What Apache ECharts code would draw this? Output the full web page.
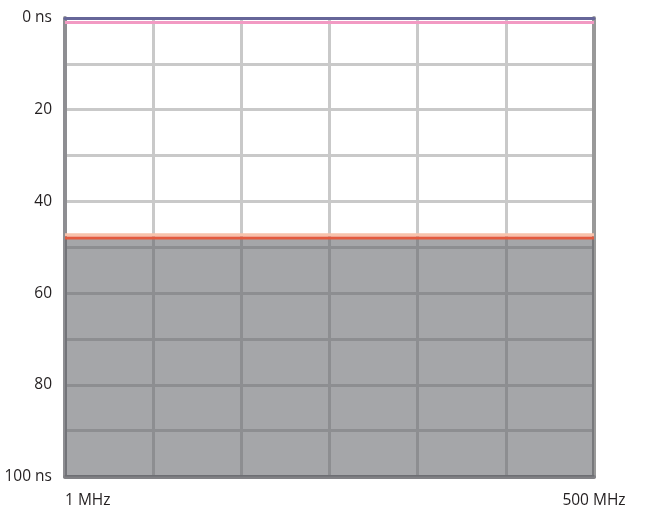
<!DOCTYPE html>
<html>
<head>
<meta charset="utf-8">
<script src="https://cdn.jsdelivr.net/npm/echarts@6/dist/echarts.min.js"></script>
<style>html,body{margin:0;padding:0;background:#fff;}#c{width:654px;height:510px;}</style>
</head>
<body>
<div id="c"></div>
<script>
// Categories along x (frequency), only end labels shown
const freqLabels = ['1 MHz', '', '', '', '', '', '500 MHz'];
// Y tick labels (ns), every 10 ns gridline, labels every 20
const yTickValues = [0, 20, 40, 60, 80, 100];
const yTickLabels = ['0 ns', '20', '40', '60', '80', '100 ns'];
// Series values (ns)
const pinkLine = [1, 1, 1, 1, 1, 1, 1];
const peachLine = [47.3, 47.3, 47.3, 47.3, 47.3, 47.3, 47.3];
const redLine = [48, 48, 48, 48, 48, 48, 48];

const font = '"Open Sans", sans-serif';
const chart = echarts.init(document.getElementById('c'), null, {renderer: 'canvas'});
chart.setOption({
  animation: false,
  grid: {left: 65, right: 60, top: 18, bottom: 33.5},
  xAxis: [{
    type: 'category', data: freqLabels, boundaryGap: false, position: 'bottom',
    axisLine: {show: true, onZero: false, lineStyle: {color: '#818185', width: 4}},
    axisTick: {show: false},
    axisLabel: {interval: 0, margin: 16, color: '#231f20', fontSize: 15.5, fontFamily: font,
      alignMinLabel: 'left', alignMaxLabel: 'center'},
    splitLine: {show: true, interval: 0, lineStyle: {color: '#c9c9c9', width: 3}}
  }, {
    type: 'category', data: freqLabels, boundaryGap: false, position: 'top',
    axisLine: {show: true, onZero: false, lineStyle: {color: '#666699', width: 3}},
    axisTick: {show: false}, axisLabel: {show: false}, splitLine: {show: false}
  }],
  yAxis: [{
    type: 'value', inverse: true, min: 0, max: 100, interval: 10, position: 'left',
    axisLine: {show: true, onZero: false, lineStyle: {color: '#8e8e92', width: 4}},
    axisTick: {show: false},
    axisLabel: {margin: 13, color: '#231f20', fontSize: 15.5, fontFamily: font,
      formatter: function (v) { const i = yTickValues.indexOf(v); return i >= 0 ? yTickLabels[i] : ''; }},
    splitLine: {show: true, lineStyle: {color: '#c9c9c9', width: 3}}
  }, {
    type: 'value', inverse: true, min: 0, max: 100, interval: 10, position: 'right',
    axisLine: {show: true, onZero: false, lineStyle: {color: '#999999', width: 4}},
    axisTick: {show: false}, axisLabel: {show: false}, splitLine: {show: false}
  }],
  series: [{
    type: 'line', data: peachLine, symbol: 'none', z: 3,
    lineStyle: {color: '#f8c2ab', width: 3}
  }, {
    type: 'line', data: redLine, symbol: 'none', z: 5,
    lineStyle: {color: '#e35a3e', width: 3},
    areaStyle: {origin: 'end', color: 'rgba(95,96,102,0.56)', opacity: 1}
  }, {
    type: 'line', data: pinkLine, symbol: 'none', z: 4,
    lineStyle: {color: '#f29ac3', width: 3}
  }]
});
</script>
</body>
</html>
